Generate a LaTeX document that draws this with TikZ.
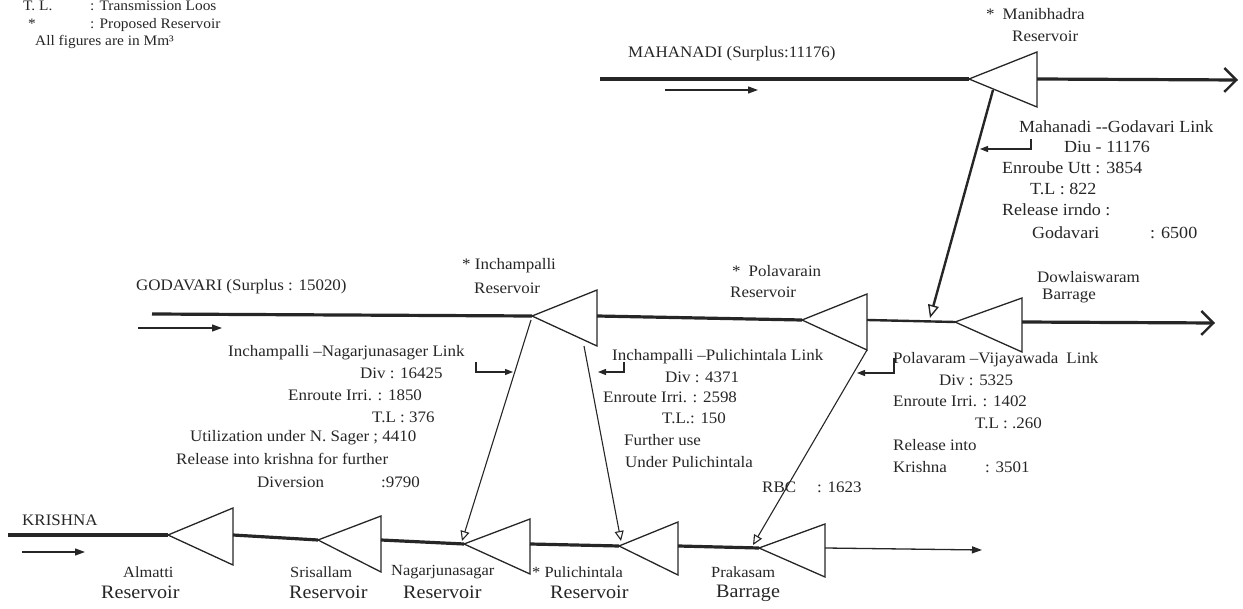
\documentclass[tikz,border=0pt]{standalone}
\usepackage{fontspec}
\setmainfont{Liberation Serif}[FakeStretch=1.06]
\usetikzlibrary{arrows.meta}
\tikzset{
 river/.style={line width=3.2pt, draw=black!85},
 resv/.style={line width=1.3pt, draw=black!85, line join=miter},
 link/.style={line width=1.1pt, draw=black!85, -{Triangle[open,length=10pt,width=9pt]}},
 hookarr/.style={line width=1.1pt, draw=black!85, -{Triangle[length=8pt,width=6pt]}},
 flow/.style={line width=1.2pt, draw=black!85, -{Triangle[length=10pt,width=7pt]}},
 barb/.style={-{Straight Barb[length=12pt,width=24pt,line width=2.4pt]}},
 lbl/.style={anchor=west, inner sep=0pt, text=black!85, font=\fontsize{16}{18}\selectfont},
 mlbl/.style={lbl, font=\fontsize{17}{19}\selectfont},
 botlbl/.style={lbl, font=\fontsize{15.5}{18}\selectfont},
 biglbl/.style={lbl, font=\fontsize{19}{22}\selectfont},
 leg/.style={anchor=base west, inner sep=0pt, text=black!85, font=\fontsize{14.5}{16}\selectfont},
}
\newcommand{\reservoir}[6]{%
  \coordinate (#1-a) at (#2,#3);
  \coordinate (#1-t) at (#4,#5);
  \coordinate (#1-b) at (#4,#6);
  \coordinate (#1-r) at (#4,#3);
  \draw[resv] (#1-a) -- (#1-t) -- (#1-b) -- cycle;}
\begin{document}
\begin{tikzpicture}[x=1pt,y=-1pt]
\useasboundingbox (0,0) rectangle (1243,609);
% legend
\node[leg] (legTL) at (23,11) {T. L.};
\node[leg] (legTLt) at (90,11) {: Transmission Loos};
\node[leg] (legST) at (28,29) {*};
\node[leg] (legSTt) at (90,29) {: Proposed Reservoir};
\node[leg] (legAll) at (35,46) {All figures are in Mm³};

% reservoirs
\reservoir{mani}{969}{79}{1037}{52}{107}
\reservoir{inch}{532}{316}{597}{290}{346}
\reservoir{pola}{802}{320}{867}{294}{350}
\reservoir{dowl}{955}{322}{1022}{298}{352}
\reservoir{alma}{168}{535}{233}{508}{565}
\reservoir{sris}{318}{540}{381}{516}{572}
\reservoir{naga}{464}{544}{530}{519}{574}
\reservoir{puli}{619}{546}{678}{522}{575}
\reservoir{prak}{759}{548}{825}{524}{577}

% Mahanadi
\coordinate (mahS) at (600,79); \coordinate (mahE) at (1238,80);
\draw[river] (mahS) -- (mani-a);
\draw[river, barb] (mani-r) -- (mahE);
\coordinate (mf1) at (665,90); \coordinate (mf2) at (758,90);
\draw[flow] (mf1) -- (mf2);

% Godavari
\coordinate (godS) at (152,314); \coordinate (godE) at (1215,323);
\draw[river] (godS) -- (inch-a);
\draw[river] (inch-r) -- (pola-a);
\draw[river, line width=2.4pt] (pola-r) -- (dowl-a);
\draw[river, barb] (dowl-r) -- (godE);
\coordinate (gf1) at (138,328); \coordinate (gf2) at (222,328);
\draw[flow] (gf1) -- (gf2);

% Krishna
\coordinate (kriS) at (8,535); \coordinate (kriE) at (982,550);
\draw[river] (kriS) -- (alma-a);
\draw[river] (alma-r) -- (sris-a);
\draw[river] (sris-r) -- (naga-a);
\draw[river] (naga-r) -- (puli-a);
\draw[river] (puli-r) -- (prak-a);
\draw[flow, line width=1.3pt] (prak-r) -- (kriE);
\coordinate (kf1) at (22,552); \coordinate (kf2) at (85,552);
\draw[flow] (kf1) -- (kf2);

% links
\coordinate (ml1) at (993,90); \coordinate (ml2) at (930,318);
\draw[link, line width=2.4pt, -{Triangle[open,length=13pt,width=11pt,line width=1.4pt]}] (ml1) -- (ml2);
\coordinate (l1a) at (531,320); \coordinate (l1b) at (462,541);
\draw[link] (l1a) -- (l1b);
\coordinate (l2a) at (584,346); \coordinate (l2b) at (621,541);
\draw[link] (l2a) -- (l2b);
\coordinate (l3a) at (867,350); \coordinate (l3b) at (753,545);
\draw[link] (l3a) -- (l3b);

% hooks
\coordinate (hma) at (1031,139); \coordinate (hmb) at (1031,149); \coordinate (hmc) at (980,149);
\draw[hookarr] (hma) -- (hmb) -- (hmc);
\coordinate (h1a) at (476,362); \coordinate (h1b) at (476,372); \coordinate (h1c) at (513,372);
\draw[hookarr] (h1a) -- (h1b) -- (h1c);
\coordinate (h2a) at (624,362); \coordinate (h2b) at (624,372); \coordinate (h2c) at (598,372);
\draw[hookarr] (h2a) -- (h2b) -- (h2c);
\coordinate (h3a) at (894,358); \coordinate (h3b) at (894,373); \coordinate (h3c) at (857,373);
\draw[hookarr] (h3a) -- (h3b) -- (h3c);

% Mahanadi labels
\node[lbl] (maniN) at (986,14) {*\enspace Manibhadra};
\node[lbl] (maniR) at (1012,36) {Reservoir};
\node[lbl] (mahN) at (628,54) {MAHANADI (Surplus:11176)};
\node[mlbl] (mg1) at (1019,127) {Mahanadi -{}-Godavari Link};
\node[mlbl] (mg2) at (1064,147) {Diu - 11176};
\node[mlbl] (mg3) at (1002,168) {Enroube Utt : 3854};
\node[mlbl] (mg4) at (1030,189) {T.L : 822};
\node[mlbl] (mg5) at (1002,210) {Release irndo :};
\node[mlbl] (mg6) at (1032,233) {Godavari};
\node[mlbl] (mg7) at (1150,233) {: 6500};

% Godavari labels
\node[lbl] (godN) at (136,287) {GODAVARI (Surplus : 15020)};
\node[lbl] (inchN) at (462,266) {* Inchampalli};
\node[lbl] (inchR) at (474,288) {Reservoir};
\node[lbl] (polaN) at (732,271) {*\enspace Polavarain};
\node[lbl] (polaR) at (730,292) {Reservoir};
\node[lbl] (dowlN) at (1037,277) {Dowlaiswaram};
\node[lbl] (dowlR) at (1042,296) {Barrage};

% Inchampalli - Nagarjunasager block
\node[lbl] (in1) at (228,353) {Inchampalli –Nagarjunasager Link};
\node[lbl] (in2) at (360,373) {Div : 16425};
\node[lbl] (in3) at (288,395) {Enroute Irri. : 1850};
\node[lbl] (in4) at (372,417) {T.L : 376};
\node[lbl] (in5) at (190,438) {Utilization under N. Sager ; 4410};
\node[lbl] (in6) at (176,459) {Release into krishna for further};
\node[lbl] (in7) at (257,482) {Diversion};
\node[lbl] (in8) at (381,482) {:9790};

% Inchampalli - Pulichintala block
\node[lbl] (ip1) at (612,357) {Inchampalli –Pulichintala Link};
\node[lbl] (ip2) at (665,377) {Div : 4371};
\node[lbl] (ip3) at (603,397) {Enroute Irri. : 2598};
\node[lbl] (ip4) at (662,418) {T.L.: 150};
\node[lbl] (ip5) at (624,440) {Further use};
\node[lbl] (ip6) at (625,462) {Under Pulichintala};
\node[lbl] (rbc1) at (762,487) {RBC};
\node[lbl] (rbc2) at (817,487) {: 1623};

% Polavaram - Vijayawada block
\node[lbl] (pv1) at (893,360) {Polavaram –Vijayawada\enspace Link};
\node[lbl] (pv2) at (939,380) {Div : 5325};
\node[lbl] (pv3) at (893,401) {Enroute Irri. : 1402};
\node[lbl] (pv4) at (975,423) {T.L : .260};
\node[lbl] (pv5) at (893,445) {Release into};
\node[lbl] (pv6) at (893,467) {Krishna};
\node[lbl] (pv7) at (985,467) {: 3501};

% Krishna labels
\node[lbl] (kriN) at (22,520) {KRISHNA};
\node[botlbl] (almN) at (123,572) {Almatti};
\node[biglbl] (almR) at (101,592) {Reservoir};
\node[botlbl] (srsN) at (290,572) {Srisallam};
\node[biglbl] (srsR) at (289,592) {Reservoir};
\node[botlbl] (ngN) at (391,572) {Nagarjunasagar};
\node[biglbl] (ngR) at (403,592) {Reservoir};
\node[botlbl] (plN) at (532,572) {* Pulichintala};
\node[biglbl] (plR) at (550,592) {Reservoir};
\node[botlbl] (prN) at (711,572) {Prakasam};
\node[biglbl] (prR) at (716,593) {Barrage};
\end{tikzpicture}
\end{document}
